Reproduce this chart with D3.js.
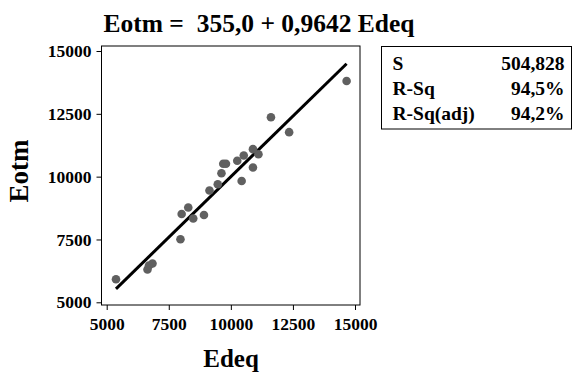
<!DOCTYPE html>
<html>
<head>
<meta charset="utf-8">
<script src="https://cdn.jsdelivr.net/npm/d3@7"></script>
<style>
  body { margin: 0; background: #fff; }
  text { font-family: "Liberation Serif", "Times New Roman", serif; font-weight: bold; fill: #000; }
</style>
</head>
<body>
<div id="chart"></div>
<script>
const edeq = [5374, 6643, 6703, 6844, 7971, 8019, 8285, 8486, 8917, 9139, 9473, 9622,
  9694, 9803, 10258, 10435, 10520, 10890, 11111, 10890, 11615, 12347, 14662];
const eotm = [5915, 6305, 6465, 6544, 7507, 8514, 8773, 8335, 8475, 9450, 9696, 10134,
  10512, 10512, 10632, 9828, 10843, 11094, 10890, 10365, 12363, 11770, 13807];

const fitCoef = [355.0, 0.9642];
const ticks = [5000, 7500, 10000, 12500, 15000];
const statNames = ['S', 'R-Sq', 'R-Sq(adj)'];
const statValues = ['504,828', '94,5%', '94,2%'];
const title = 'Eotm =  355,0 + 0,9642 Edeq';

const width = 573, height = 373;

const svg = d3.select('#chart').append('svg')
  .attr('width', width)
  .attr('height', height);

const x = d3.scaleLinear().domain([5000, 15000]).range([106.7, 355]);
const y = d3.scaleLinear().domain([5000, 15000]).range([302.3, 51]);

const frame = {left: 101.5, right: 360, top: 46, bottom: 305};

svg.append('rect')
  .attr('x', frame.left).attr('y', frame.top)
  .attr('width', frame.right - frame.left)
  .attr('height', frame.bottom - frame.top)
  .attr('fill', 'none')
  .attr('stroke', '#000')
  .attr('stroke-width', 1);

const xAxis = svg.append('g')
  .attr('transform', `translate(0,${frame.bottom})`)
  .call(d3.axisBottom(x).tickValues(ticks).tickSize(5).tickPadding(4).tickFormat(d3.format('d')));
xAxis.select('.domain').remove();
xAxis.selectAll('text').style('font-size', '17.5px').attr('dy', '0.9em');

const yAxis = svg.append('g')
  .attr('transform', `translate(${frame.left},0)`)
  .call(d3.axisLeft(y).tickValues(ticks).tickSize(5).tickPadding(5).tickFormat(d3.format('d')));
yAxis.select('.domain').remove();
yAxis.selectAll('text').style('font-size', '17.5px');

// fitted line over the data range
const [b0, b1] = fitCoef;
const xr = d3.extent(edeq);
svg.append('line')
  .attr('x1', x(xr[0])).attr('y1', y(b0 + b1 * xr[0]))
  .attr('x2', x(xr[1])).attr('y2', y(b0 + b1 * xr[1]))
  .attr('stroke', '#000')
  .attr('stroke-width', 3);

svg.append('g').selectAll('circle')
  .data(edeq.map((d, i) => [d, eotm[i]]))
  .join('circle')
  .attr('cx', d => x(d[0]))
  .attr('cy', d => y(d[1]))
  .attr('r', 4.3)
  .attr('fill', '#606060');

svg.append('text')
  .attr('x', 259).attr('y', 31.5)
  .attr('text-anchor', 'middle')
  .style('font-size', '25.5px')
  .style('white-space', 'pre')
  .text(title);

svg.append('text')
  .attr('x', 231).attr('y', 367)
  .attr('text-anchor', 'middle')
  .style('font-size', '25px')
  .text('Edeq');

svg.append('text')
  .attr('transform', 'translate(28,171) rotate(-90)')
  .attr('text-anchor', 'middle')
  .style('font-size', '27px')
  .text('Eotm');

// stats box
const box = svg.append('g');
box.append('rect')
  .attr('x', 381.5).attr('y', 46.5)
  .attr('width', 190).attr('height', 82.5)
  .attr('fill', 'none')
  .attr('stroke', '#000');

const rowY = d3.scalePoint().domain(statNames).range([70, 120]);
box.selectAll('text.name')
  .data(statNames)
  .join('text')
  .attr('class', 'name')
  .attr('x', 392.5)
  .attr('y', d => rowY(d))
  .style('font-size', '19.5px')
  .text(d => d);
box.selectAll('text.val')
  .data(statValues)
  .join('text')
  .attr('class', 'val')
  .attr('x', 564.5)
  .attr('y', (d, i) => rowY(statNames[i]))
  .attr('text-anchor', 'end')
  .style('font-size', '19.5px')
  .text(d => d);
</script>
</body>
</html>
